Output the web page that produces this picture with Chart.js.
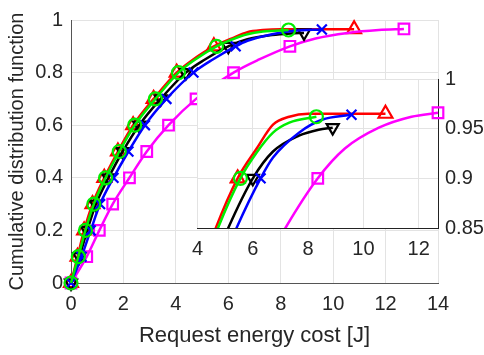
<!DOCTYPE html>
<html>
<head>
<meta charset="utf-8">
<script src="https://cdn.jsdelivr.net/npm/chart.js@4.4.1/dist/chart.umd.min.js"></script>
<style>
  body { margin: 0; background: #fff; }
  #wrap { position: relative; width: 484px; height: 355px; }
  #main { position: absolute; left: 0; top: 0; }
  #zoom { position: absolute; left: 183px; top: 60px; }
</style>
</head>
<body>
<div id="wrap">
  <canvas id="main" width="484" height="355"></canvas>
  <canvas id="zoom" width="301" height="200"></canvas>
</div>
<script>
// CDF levels of the lower part of each curve (markers sit on every 0.1)
var cdfY = [0, 0.1, 0.2, 0.3, 0.4, 0.5, 0.6, 0.7, 0.8, 0.85, 0.9];

// request energy cost [J] at those levels
var redX     = [0, 0.25, 0.5, 0.82, 1.27, 1.79, 2.37, 3.15, 4.03, 4.66, 5.45];
var greenX   = [0, 0.28, 0.55, 0.87, 1.32, 1.84, 2.43, 3.22, 4.1, 4.74, 5.55];
var blackX   = [0, 0.32, 0.62, 0.95, 1.43, 1.97, 2.6, 3.42, 4.38, 5.11, 6.0];
var blueX    = [0, 0.4, 0.75, 1.11, 1.62, 2.19, 2.82, 3.64, 4.67, 5.41, 6.28];
var magentaX = [0, 0.6, 1.08, 1.59, 2.23, 2.89, 3.72, 4.77, 6.2, 7.18, 8.35];

// upper tails
var redTailX = [6.14, 6.73, 7.32, 8.0, 10.8];
var redTailY = [0.930, 0.954, 0.962, 0.965, 0.965];
var greenTailX = [6.14, 6.73, 7.32, 8.3];
var greenTailY = [0.926, 0.946, 0.956, 0.962];
var blackTailX = [6.73, 7.67, 8.38, 8.89];
var blackTailY = [0.927, 0.943, 0.949, 0.951];
var blueTailX = [6.73, 7.67, 8.5, 9.57];
var blueTailY = [0.921, 0.946, 0.959, 0.964];
var magentaTailX = [9.33, 10.56, 11.74, 12.7];
var magentaTailY = [0.930, 0.951, 0.962, 0.966];

// axis ticks
var mainXTicks = [0, 2, 4, 6, 8, 10, 12, 14];
var mainYTicks = [0, 0.2, 0.4, 0.6, 0.8, 1];
var zoomXTicks = [4, 6, 8, 10, 12];
var zoomYTicks = [0.85, 0.9, 0.95, 1];

var FONT = 'Liberation Sans, Arial, Helvetica, sans-serif';
var TXT = '#262626';
var GRID = '#e3e3e3';
var AXIS = '#555555';

function curve(xs, tx, ty) {
  var pts = [];
  for (var i = 0; i < xs.length; i++) pts.push({ x: xs[i], y: cdfY[i] });
  for (var j = 0; j < tx.length; j++) pts.push({ x: tx[j], y: ty[j] });
  return pts;
}

function marks(xs, tx, ty) {
  var pts = [];
  for (var i = 0; i < xs.length; i++) {
    if (cdfY[i] === 0.85) continue;
    pts.push({ x: xs[i], y: cdfY[i] });
  }
  pts.push({ x: tx[tx.length - 1], y: ty[ty.length - 1] });
  return pts;
}

var series = [
  { xs: redX, tx: redTailX, ty: redTailY, color: '#ff0000', style: 'triangle', rot: 0, r: 8, order: 4 },
  { xs: magentaX, tx: magentaTailX, ty: magentaTailY, color: '#ff00ff', style: 'rect', rot: 0, r: 7.5, order: 3 },
  { xs: blackX, tx: blackTailX, ty: blackTailY, color: '#000000', style: 'triangle', rot: 180, r: 7, order: 2 },
  { xs: blueX, tx: blueTailX, ty: blueTailY, color: '#0000ff', style: 'crossRot', rot: 0, r: 7, order: 1 },
  { xs: greenX, tx: greenTailX, ty: greenTailY, color: '#00ee00', style: 'circle', rot: 0, r: 6.5, order: 0 }
];

function buildDatasets(clip) {
  var ds = [];
  series.forEach(function (s) {
    ds.push({
      data: curve(s.xs, s.tx, s.ty),
      showLine: true,
      borderColor: s.color,
      borderWidth: 2.5,
      pointRadius: 0,
      cubicInterpolationMode: 'monotone',
      order: s.order,
      clip: clip
    });
    ds.push({
      data: marks(s.xs, s.tx, s.ty),
      showLine: false,
      pointStyle: s.style,
      rotation: s.rot,
      pointRadius: s.r,
      pointBorderWidth: 2.2,
      pointBorderColor: s.color,
      pointBackgroundColor: 'rgba(0,0,0,0)',
      order: s.order,
      clip: clip
    });
  });
  return ds;
}

function fixedTicks(list) {
  return function (scale) {
    scale.ticks = list.map(function (v) { return { value: v }; });
  };
}

// plain numbers, no trailing zeros
function plain(v) { return String(v); }

new Chart(document.getElementById('main'), {
  type: 'scatter',
  data: { datasets: buildDatasets(false) },
  options: {
    responsive: false,
    animation: false,
    layout: { padding: { left: 0, top: 14, right: 46, bottom: 0 } },
    plugins: { legend: { display: false }, tooltip: { enabled: false } },
    scales: {
      x: {
        type: 'linear', min: 0, max: 14,
        afterBuildTicks: fixedTicks(mainXTicks),
        afterFit: function (s) { s.height = 72; },
        grid: { color: GRID, drawTicks: false },
        border: { color: AXIS, width: 1 },
        ticks: { color: TXT, padding: 9, font: { family: FONT, size: 20 }, callback: plain },
        title: { display: true, text: 'Request energy cost [J]', color: TXT,
                 font: { family: FONT, size: 22 }, padding: { top: 0, bottom: 6 } }
      },
      y: {
        type: 'linear', min: 0, max: 1,
        afterBuildTicks: fixedTicks(mainYTicks),
        afterFit: function (s) { s.width = 71; },
        grid: { color: GRID, drawTicks: false },
        border: { color: AXIS, width: 1 },
        ticks: { color: TXT, padding: 8, font: { family: FONT, size: 20 }, callback: plain },
        title: { display: true, text: 'Cumulative distribution function', color: TXT,
                 font: { family: FONT, size: 20 }, padding: { top: 5, bottom: 0 } }
      }
    }
  }
});

// white plot area so the magnified view covers the main curves
var whiteArea = {
  id: 'whiteArea',
  beforeDraw: function (chart) {
    var a = chart.chartArea, ctx = chart.ctx;
    ctx.save();
    ctx.fillStyle = '#fff';
    ctx.fillRect(a.left, a.top, a.right - a.left, a.bottom - a.top);
    ctx.restore();
  }
};

new Chart(document.getElementById('zoom'), {
  type: 'scatter',
  data: { datasets: buildDatasets({ left: 0, top: 0, right: 10, bottom: 0 }) },
  plugins: [whiteArea],
  options: {
    responsive: false,
    animation: false,
    layout: { padding: { left: 10, top: 10, right: 0, bottom: 0 } },
    plugins: { legend: { display: false }, tooltip: { enabled: false } },
    scales: {
      x: {
        type: 'linear', min: 4, max: 12.7,
        afterBuildTicks: fixedTicks(zoomXTicks),
        afterFit: function (s) { s.height = 32; },
        grid: { color: GRID, drawTicks: false },
        border: { color: '#222', width: 1 },
        ticks: { color: TXT, padding: 9, font: { family: FONT, size: 20 }, callback: plain }
      },
      y: {
        type: 'linear', position: 'right', min: 0.85, max: 1,
        afterBuildTicks: fixedTicks(zoomYTicks),
        afterFit: function (s) { s.width = 46; },
        grid: { color: GRID, drawTicks: false },
        border: { color: '#222', width: 1 },
        ticks: { color: TXT, padding: 7, font: { family: FONT, size: 20 }, callback: plain }
      }
    }
  }
});
</script>
</body>
</html>
